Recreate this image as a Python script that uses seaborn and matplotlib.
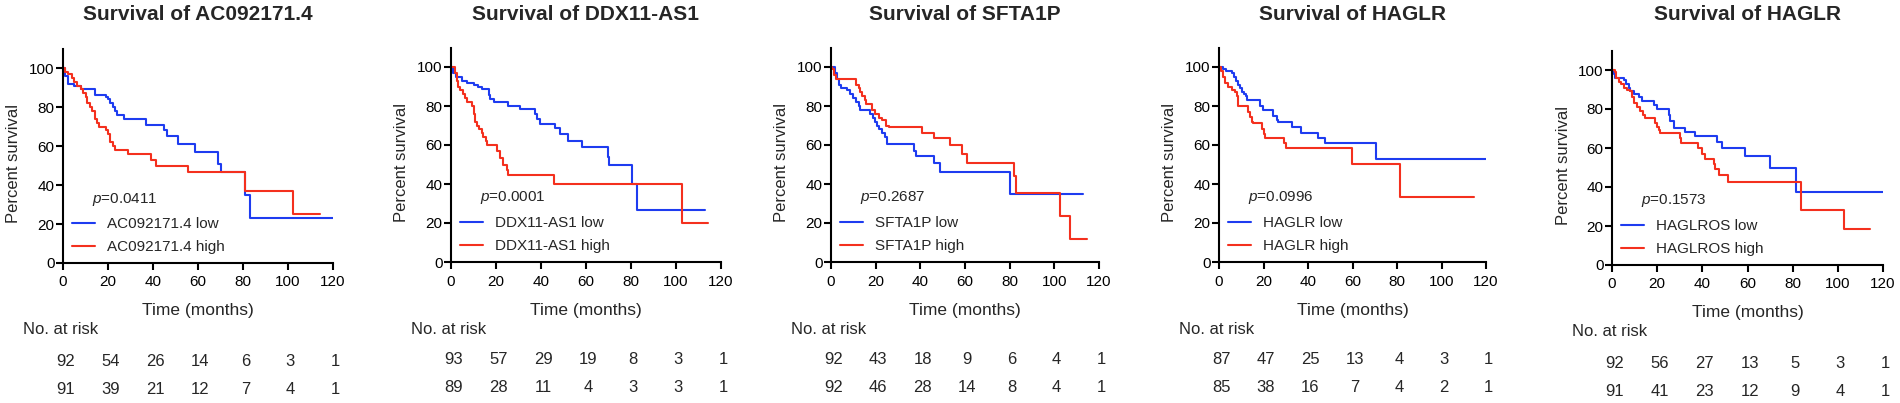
import matplotlib
matplotlib.use("Agg")
import matplotlib.pyplot as plt
import matplotlib.transforms as mtransforms
import seaborn as sns
import pandas as pd

# ---------------- data ----------------
titles = ["Survival of AC092171.4", "Survival of DDX11-AS1", "Survival of SFTA1P",
          "Survival of HAGLR", "Survival of HAGLR"]
genes = ["AC092171.4", "DDX11-AS1", "SFTA1P", "HAGLR", "HAGLROS"]
p_values = ["0.0411", "0.0001", "0.2687", "0.0996", "0.1573"]

ac_low_t = [0, 1, 2, 5, 8, 14, 19, 20, 21, 22, 23, 24, 27, 37, 45, 46, 51, 58.5, 69, 70, 81, 83, 120]
ac_low_s = [100, 96, 92, 91, 89, 86, 85, 84, 82, 80, 78, 76, 74, 71, 68, 65, 61, 57, 51, 46.5, 35, 23, 23]
ac_high_t = [0, 1, 2, 4, 5, 6, 8, 9, 10, 10.5, 12, 13, 14, 15, 16, 19, 20, 21, 22, 23, 29, 39, 41.5, 55.5, 81, 102, 114]
ac_high_s = [100, 98, 97, 95, 93, 91, 89, 87, 85, 82, 80, 78, 74, 72, 70, 68, 66, 62, 60, 58, 56, 53, 50, 46.5, 37, 25, 25]

ddx_low_t = [0, 1, 2, 5, 7, 10, 12, 13.6, 17, 17.5, 19, 25.5, 30.7, 37.3, 38, 39.5, 46, 48.5, 52, 58, 69.6, 70, 80.6, 82.8, 113]
ddx_low_s = [100, 97, 95, 93, 92, 91, 90, 88.8, 85.4, 83.6, 82, 80.2, 78.5, 76, 73.3, 70.7, 68.7, 65.6, 62, 59, 54, 49.7, 39.8, 26.5, 26.5]
ddx_high_t = [0, 1.8, 2.5, 3.3, 4, 5.2, 6.2, 7.3, 9.2, 10, 10.7, 11.4, 12.6, 13.6, 14.4, 15.5, 16, 20.3, 21.8, 23, 24.7, 25.2, 45.8, 102.5, 114]
ddx_high_s = [100, 97, 93, 90, 88, 86, 84, 82, 80, 76, 72, 70, 68, 66, 64, 62, 60, 57, 53.5, 50, 47, 44.4, 40, 20, 20]

sf_low_t = [0, 2, 2.7, 3.4, 4.5, 7, 8.6, 9.8, 11, 12.4, 13, 17.6, 19, 19.8, 20.6, 21.6, 22.8, 24.3, 25, 37, 38, 46, 49, 80.2, 113]
sf_low_s = [100, 97, 94, 91, 89, 88, 86, 84, 82, 80, 78, 76, 74, 72, 70, 68, 66, 64, 60.3, 56.9, 54.6, 50.8, 46.3, 34.7, 34.7]
sf_high_t = [0, 0.5, 1.2, 2.4, 11, 12.4, 13, 13.9, 15, 15.8, 18.3, 19.8, 21.3, 22.8, 24.7, 25.8, 40.7, 45.9, 53.4, 58.6, 61, 81.9, 83, 102.5, 107, 114.5]
sf_high_s = [100, 99, 96, 93.8, 91, 89, 87, 85, 83, 80.8, 78, 76, 74, 72.7, 70, 69, 66, 63.6, 59.8, 55.6, 51, 44.2, 35.6, 23.5, 12, 12]

hag_low_t = [0, 1.6, 3, 5.7, 6.7, 7.6, 8.7, 9.4, 10.2, 11.2, 12.1, 12.7, 18.4, 19.9, 24.4, 26.2, 26.6, 32.6, 36.8, 44.6, 47.6, 70.4, 120]
hag_low_s = [100, 99, 98, 97, 95, 93, 91, 89, 87, 86, 85, 83.3, 80, 78, 75, 73, 71.9, 69, 66.4, 63.4, 60.9, 53, 53]
hag_high_t = [0, 0.7, 1.6, 2.7, 4.2, 5.7, 7.2, 8.2, 8.7, 13.2, 13.9, 14.7, 15.4, 19.2, 20.2, 20.7, 29.2, 30.1, 59.9, 81.3, 114.7]
hag_high_s = [100, 98, 95, 92, 90, 88, 87, 85, 79.8, 77, 74.5, 72, 71.5, 68, 65.5, 63.8, 61, 58.6, 50.2, 33.3, 33.3]

hos_low_t = [0, 0.7, 1.5, 5.2, 6.3, 7.4, 8.1, 9.6, 11.8, 13.3, 18.5, 19.9, 25.1, 25.8, 27.3, 32.5, 36.9, 46.3, 48.7, 59, 70.1, 81.6, 120]
hos_low_s = [100, 98, 96, 95, 93, 91, 89, 87.6, 86, 84.2, 82, 80, 77, 74, 70.5, 68.3, 66, 63, 60, 55.9, 49.6, 37.2, 37.2]
hos_high_t = [0, 1.2, 1.9, 3, 4, 5.2, 6.6, 8.1, 8.9, 9.6, 11.1, 12.5, 13.7, 14.8, 18.9, 19.9, 20.7, 21.4, 29.9, 30.6, 38.3, 39.9, 41.3, 45.3, 45.7, 47.2, 51.2, 83.7, 102.6, 114.4]
hos_high_s = [100, 99, 96, 94, 93, 91, 90, 89, 86, 83, 81, 79, 77, 75.5, 73, 71, 69, 67.7, 65, 62.6, 60, 57, 54.4, 52, 49, 45.9, 42.8, 28.3, 18.6, 18.6]

risk_times = [0, 20, 40, 60, 80, 100, 120]
risk_low = [[92, 54, 26, 14, 6, 3, 1], [93, 57, 29, 19, 8, 3, 1], [92, 43, 18, 9, 6, 4, 1],
            [87, 47, 25, 13, 4, 3, 1], [92, 56, 27, 13, 5, 3, 1]]
risk_high = [[91, 39, 21, 12, 7, 4, 1], [89, 28, 11, 4, 3, 3, 1], [92, 46, 28, 14, 8, 4, 1],
             [85, 38, 16, 7, 4, 2, 1], [91, 41, 23, 12, 9, 4, 1]]

curves = [(ac_low_t, ac_low_s, ac_high_t, ac_high_s),
          (ddx_low_t, ddx_low_s, ddx_high_t, ddx_high_s),
          (sf_low_t, sf_low_s, sf_high_t, sf_high_s),
          (hag_low_t, hag_low_s, hag_high_t, hag_high_s),
          (hos_low_t, hos_low_s, hos_high_t, hos_high_s)]

# ---------------- style ----------------
sns.set_theme(style="white")
plt.rcParams["font.family"] = ["Liberation Sans", "DejaVu Sans"]
plt.rcParams["mathtext.fontset"] = "custom"
plt.rcParams["mathtext.rm"] = "Liberation Sans"
plt.rcParams["mathtext.it"] = "Liberation Sans:italic"

BLUE = "#1e3cf0"
RED = "#f4301e"

W, H = 1900, 403
fig = plt.figure(figsize=(19, 4.03), dpi=100)

px_left = [63, 451, 831, 1219, 1612]
px_right = [333, 721, 1099, 1486, 1883]
px_bottom = [263, 262, 262, 262, 265]
px_height = 214.5

for i in range(5):
    l, r, b = px_left[i], px_right[i], px_bottom[i]
    ax = fig.add_axes([l / W, 1 - b / H, (r - l) / W, px_height / H])
    lt, ls, ht, hs = curves[i]
    df = pd.DataFrame({
        "time": list(lt) + list(ht),
        "surv": list(ls) + list(hs),
        "group": [f"{genes[i]} low"] * len(lt) + [f"{genes[i]} high"] * len(ht),
    })
    sns.lineplot(data=df, x="time", y="surv", hue="group",
                 palette={f"{genes[i]} low": BLUE, f"{genes[i]} high": RED},
                 estimator=None, drawstyle="steps-post", linewidth=1.5,
                 ax=ax, legend=True)
    ax.set_xlim(0, 120)
    ax.set_ylim(0, 110)
    ax.set_xticks(risk_times)
    ax.set_yticks([0, 20, 40, 60, 80, 100])
    ax.set_xlabel("")
    ax.set_ylabel("")
    for sp in ["top", "right"]:
        ax.spines[sp].set_visible(False)
    for sp in ["left", "bottom"]:
        ax.spines[sp].set_linewidth(1.5)
        ax.spines[sp].set_color("black")
    ax.tick_params(axis="both", direction="out", length=5, width=1.5, color="black",
                   labelsize=11, labelcolor="black")
    ax.tick_params(axis="x", pad=4)
    ax.tick_params(axis="y", pad=1)
    ax.tick_params(left=True, bottom=True)

    handles, labels = ax.get_legend_handles_labels()
    ax.legend(handles, labels, loc="center left",
              bbox_to_anchor=((l + 9) / W, 1 - (b - 27.5) / H),
              bbox_transform=fig.transFigure, frameon=False, fontsize=11,
              handlelength=1.5, handletextpad=0.8, labelspacing=0.6,
              borderpad=0, borderaxespad=0)

    fig.text((l + 29) / W, 1 - (b - 64) / H, r"$\it{p}$=" + p_values[i],
             ha="left", va="center", fontsize=11)

    xc = (l + r) / 2
    fig.text(xc / W, 1 - 15 / H, titles[i], ha="center", va="center",
             fontsize=15, fontweight="bold")
    fig.text(xc / W, 1 - (b + 48) / H, "Time (months)", ha="center", va="center",
             fontsize=12.5)
    fig.text((l - 49) / W, 1 - (b - px_height / 2 + 8) / H, "Percent survival",
             ha="center", va="center", rotation=90, fontsize=12)
    fig.text((l - 40) / W, 1 - (b + 67) / H, "No. at risk", ha="left", va="center",
             fontsize=12)
    trans = mtransforms.blended_transform_factory(ax.transData, fig.transFigure)
    for t, nl, nh in zip(risk_times, risk_low[i], risk_high[i]):
        ax.text(t + 1, 1 - (b + 98) / H, str(nl), transform=trans, ha="center",
                va="center", fontsize=12, clip_on=False)
        ax.text(t + 1, 1 - (b + 126) / H, str(nh), transform=trans, ha="center",
                va="center", fontsize=12, clip_on=False)

fig.savefig("out.png", dpi=100)
